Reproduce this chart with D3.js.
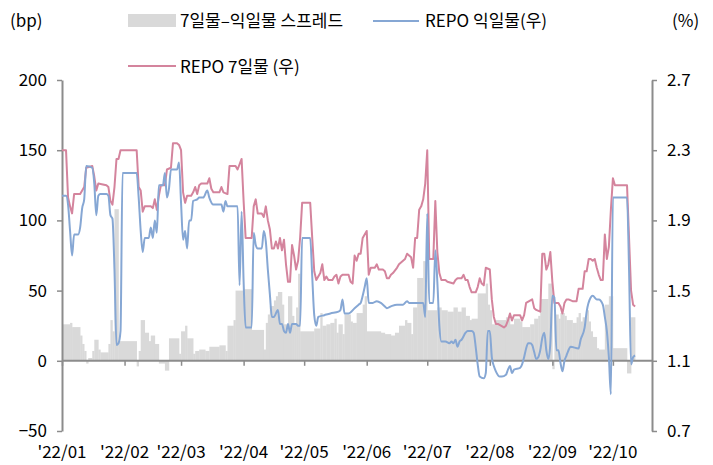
<!DOCTYPE html>
<html>
<head>
<meta charset="utf-8">
<script src="https://cdnjs.cloudflare.com/ajax/libs/d3/7.8.5/d3.min.js"></script>
<style>
  body { margin: 0; background: #fff; }
  text { font-family: "Liberation Sans Narrow", "Noto Sans CJK KR", sans-serif; fill: #000; }
</style>
</head>
<body>
<div id="chart"></div>
<script>
// 7일물-익일물 스프레드 (bp), step values from each date
const spreadDates = ["01-01","01-05","01-06","01-10","01-11","01-12","01-13","01-14","01-16","01-17","01-19","01-20","01-24","01-25","01-26","01-27","01-29",
  "02-07","02-08","02-09","02-11","02-13","02-14","02-16","02-18","02-21","02-23","02-28",
  "03-01","03-03","03-04","03-07","03-08","03-10","03-13","03-15","03-20","03-23","03-24","03-27","03-28",
  "04-01","04-05","04-11","04-12","04-13","04-14","04-16","04-17","04-18","04-20","04-21","04-23","04-25","04-26","04-27","04-28","04-29",
  "05-06","05-09","05-10","05-12","05-14","05-16","05-17","05-18","05-20","05-21","05-24","05-25","05-27","05-30","05-31",
  "06-01","06-08","06-10","06-13","06-15","06-17","06-20","06-21","06-23","06-24","06-26","06-29",
  "07-01","07-06","07-08","07-11","07-14","07-16","07-18","07-20","07-22","07-23","07-26","07-30","07-31",
  "08-01","08-02","08-04","08-09","08-11","08-13","08-16","08-17","08-21","08-23","08-25","08-26","08-30",
  "09-01","09-02","09-04","09-05","09-07","09-08","09-11","09-13","09-14","09-15","09-16","09-18","09-19","09-20","09-21","09-23","09-24","09-27","09-29",
  "10-01","10-08","10-10","10-11"];
const spreadValues = [26,27,24,18,12,7,-2,2,7,15,8,6,12,29,21,108,14,
  -4,7,29,20,14,18,12,-2,-7,16,5,
  21,25,16,5,7,8,7,10,11,7,25,29,50,
  51,22,8,27,33,39,43,46,49,40,26,46,32,26,38,62,21,
  23,34,25,26,27,30,20,26,19,33,28,27,34,40,46,
  21,20,19,18,20,25,29,27,19,38,59,71,
  36,38,36,35,38,35,38,32,29,30,48,55,40,
  36,26,29,31,26,30,28,24,26,30,32,44,55,
  -6,33,30,34,32,29,27,31,34,28,31,36,28,21,17,9,8,40,46,
  9,-9,31,31];

// REPO 익일물 (%)
const onDates = ["01-01","01-03","01-04","01-05","01-06","01-07","01-09","01-10","01-11","01-12","01-13","01-16","01-17","01-18","01-19","01-20","01-23","01-24","01-25","01-26","01-27","01-28","01-29","01-30","01-31",
  "02-07","02-08","02-09","02-10","02-11","02-13","02-14","02-15","02-16","02-17","02-18","02-20","02-21","02-22","02-23","02-24","02-27","02-28",
  "03-01","03-02","03-03","03-04","03-05","03-06","03-07","03-09","03-10","03-12","03-14","03-15","03-17","03-21","03-22","03-23","03-24","03-29","03-30","03-31",
  "04-01","04-02","04-05","04-06","04-07","04-08","04-10","04-11","04-12","04-13","04-14","04-15","04-16","04-18","04-19","04-20","04-21","04-22","04-23","04-24","04-25","04-27","04-28","04-29","04-30",
  "05-04","05-05","05-06","05-07","05-08","05-11","05-14","05-18","05-19","05-20","05-21","05-23","05-26","05-28","05-29","05-30","05-31",
  "06-01","06-02","06-04","06-06","06-08","06-10","06-11","06-13","06-16","06-19","06-21","06-22","06-29","06-30",
  "07-01","07-02","07-04","07-05","07-06","07-07","07-08","07-10","07-12","07-13","07-14","07-15","07-16","07-17","07-18","07-20","07-21","07-23","07-24","07-25","07-26","07-27","07-29","07-30","07-31",
  "08-01","08-02","08-03","08-04","08-06","08-07","08-09","08-10","08-11","08-12","08-13","08-16","08-17","08-18","08-19","08-20","08-21","08-22","08-23","08-24","08-25","08-26","08-27","08-28","08-29","08-30","08-31",
  "09-01","09-02","09-03","09-04","09-05","09-06","09-07","09-08","09-09","09-10","09-14","09-15","09-17","09-18","09-20","09-21","09-23","09-24","09-26","09-27","09-28","09-29","09-30",
  "10-01","10-08","10-09","10-10","10-11","10-12"];
const onValues = [2.04,2.04,1.99,1.84,1.70,1.82,1.82,1.86,1.97,2.02,2.21,2.20,2.11,1.93,2.04,2.05,2.05,2.04,1.93,1.91,1.62,1.19,1.20,1.27,2.17,
  2.17,2.03,1.84,1.72,1.80,1.80,1.86,1.80,1.90,1.83,2.10,2.10,2.17,2.03,2.08,2.19,2.19,2.23,
  2.00,1.79,1.84,1.74,1.90,1.90,2.01,2.02,2.03,2.03,2.07,2.03,1.99,1.99,1.95,2.01,1.98,1.98,1.53,1.95,
  1.55,1.29,1.29,1.83,1.76,1.74,1.74,1.84,1.78,1.62,1.48,1.35,1.35,1.39,1.31,1.31,1.27,1.26,1.31,1.26,1.31,1.31,1.30,1.30,1.80,
  1.80,1.58,1.36,1.30,1.35,1.36,1.37,1.38,1.39,1.45,1.37,1.37,1.40,1.42,1.43,1.47,1.52,
  1.57,1.43,1.43,1.44,1.43,1.41,1.40,1.41,1.42,1.42,1.44,1.43,1.43,1.35,
  1.94,1.43,1.43,1.73,1.55,1.30,1.21,1.21,1.20,1.21,1.20,1.22,1.18,1.21,1.22,1.26,1.27,1.27,1.26,1.18,1.08,1.01,1.00,1.03,1.27,
  1.27,1.12,1.07,1.04,1.01,1.01,1.02,1.05,1.07,1.03,1.05,1.06,1.08,1.12,1.17,1.20,1.20,1.19,1.15,1.11,1.12,1.16,1.23,1.26,1.16,1.11,1.20,
  1.47,1.46,1.16,1.16,1.09,1.04,1.10,1.13,1.16,1.18,1.17,1.22,1.29,1.38,1.46,1.47,1.45,1.45,1.42,1.35,1.27,1.12,0.91,
  2.03,2.03,1.62,1.08,1.12,1.13];

// REPO 7일물 (%)
const d7Dates = ["01-01","01-03","01-04","01-05","01-06","01-07","01-10","01-11","01-12","01-13","01-16","01-17","01-18","01-19","01-23","01-24","01-25","01-26","01-27","01-28","01-29","01-30",
  "02-07","02-08","02-09","02-10","02-11","02-14","02-15","02-16","02-17","02-18","02-19","02-21","02-22","02-24","02-25","02-27","02-28",
  "03-01","03-02","03-03","03-04","03-06","03-07","03-08","03-09","03-10","03-11","03-14","03-15","03-16","03-17","03-20","03-21","03-22","03-24","03-25","03-28","03-29","03-30","03-31",
  "04-01","04-02","04-05","04-06","04-07","04-08","04-10","04-11","04-12","04-13","04-14","04-15","04-16","04-17","04-18","04-19","04-20","04-21","04-22","04-23","04-24","04-25","04-26","04-27","04-28","04-29","04-30",
  "05-04","05-05","05-06","05-07","05-08","05-09","05-10","05-11","05-12","05-13","05-15","05-16","05-17","05-18","05-19","05-20","05-23","05-24","05-25","05-26","05-27","05-28","05-29","05-30","05-31",
  "06-01","06-02","06-03","06-05","06-06","06-07","06-09","06-10","06-11","06-12","06-13","06-14","06-16","06-17","06-19","06-20","06-21","06-22","06-23","06-24","06-25","06-26","06-27","06-28","06-29","06-30",
  "07-01","07-02","07-04","07-05","07-06","07-07","07-08","07-10","07-11","07-14","07-15","07-16","07-18","07-19","07-20","07-21","07-22","07-23","07-25","07-26","07-27","07-28","07-29","07-30",
  "08-01","08-02","08-03","08-04","08-05","08-08","08-09","08-10","08-11","08-12","08-13","08-16","08-17","08-18","08-19","08-22","08-23","08-24","08-26","08-27","08-28","08-29","08-30","08-31",
  "09-01","09-02","09-04","09-05","09-06","09-07","09-08","09-09","09-11","09-13","09-14","09-16","09-17","09-18","09-19","09-20","09-21","09-22","09-23","09-24","09-25","09-26","09-27","09-28","09-29","09-30",
  "10-01","10-02","10-08","10-09","10-10","10-11","10-12"];
const d7Values = [2.30,2.30,2.03,1.98,1.94,2.05,2.05,2.07,2.09,2.20,2.21,2.15,2.07,2.11,2.10,2.09,2.01,1.99,2.09,2.25,2.25,2.30,
  2.30,2.09,2.07,1.95,1.98,1.98,1.97,2.02,1.96,2.04,2.10,2.10,2.19,2.20,2.34,2.34,2.33,
  2.30,2.06,2.00,2.04,2.04,2.06,2.09,2.05,2.10,2.11,2.11,2.14,2.08,2.06,2.06,2.09,2.06,2.05,2.21,2.21,2.19,2.22,2.25,
  2.01,1.80,1.80,1.98,2.02,1.94,1.94,1.92,1.98,1.90,1.85,1.74,1.74,1.78,1.74,1.80,1.73,1.79,1.65,1.55,1.55,1.76,1.70,1.62,1.67,1.80,2.00,
  2.00,1.80,1.61,1.56,1.58,1.60,1.65,1.56,1.58,1.56,1.56,1.58,1.59,1.54,1.58,1.59,1.59,1.55,1.54,1.70,1.67,1.71,1.71,1.80,1.82,
  1.84,1.59,1.63,1.63,1.65,1.62,1.62,1.61,1.57,1.57,1.59,1.60,1.63,1.65,1.67,1.68,1.71,1.70,1.69,1.63,1.80,1.80,1.96,1.98,2.02,2.11,
  2.30,1.68,1.68,2.01,1.72,1.60,1.56,1.56,1.55,1.54,1.56,1.57,1.57,1.59,1.56,1.56,1.52,1.49,1.49,1.52,1.57,1.54,1.53,1.63,
  1.62,1.45,1.35,1.31,1.31,1.29,1.30,1.33,1.37,1.33,1.36,1.36,1.33,1.36,1.43,1.45,1.40,1.39,1.38,1.71,1.71,1.62,1.65,1.72,
  1.55,1.43,1.43,1.41,1.37,1.43,1.45,1.45,1.44,1.44,1.51,1.51,1.61,1.61,1.68,1.68,1.67,1.68,1.63,1.59,1.56,1.56,1.82,1.68,1.75,1.96,
  2.14,2.10,2.10,1.80,1.50,1.42,1.41];

const monthLabels = ["'22/01","'22/02","'22/03","'22/04","'22/05","'22/06","'22/07","'22/08","'22/09","'22/10"];
const leftTicks = [-50, 0, 50, 100, 150, 200];
const rightTicks = [0.7, 1.1, 1.5, 1.9, 2.3, 2.7];

const parse = d3.timeParse("%Y-%m-%d");
const toDate = s => parse("2022-" + s);

const width = 713, height = 465;
const plot = {left: 62, right: 652, top: 80, bottom: 431};
const axisColor = "#8c8c8c";
const pinkColor = "#d4849d";
const blueColor = "#86a7d4";
const barColor = "#d9d9d9";

const x = d3.scaleTime()
    .domain([new Date(2022, 0, 1), new Date(2022, 9, 20, 9)])
    .range([plot.left, plot.right]);
const yL = d3.scaleLinear().domain([-50, 200]).range([plot.bottom, plot.top]);
const yR = d3.scaleLinear().domain([0.7, 2.7]).range([plot.bottom, plot.top]);

const svg = d3.select("#chart").append("svg")
    .attr("width", width)
    .attr("height", height);

// spread bars
const bars = spreadDates.map((s, i) => {
  const d0 = toDate(s);
  const d1 = i < spreadDates.length - 1 ? toDate(spreadDates[i + 1]) : d3.timeDay.offset(d0, 1);
  return {d0, d1, v: spreadValues[i]};
});

svg.append("g")
  .selectAll("rect")
  .data(bars)
  .join("rect")
    .attr("x", d => x(d.d0))
    .attr("width", d => x(d.d1) - x(d.d0) + 0.3)
    .attr("y", d => yL(Math.max(0, d.v)))
    .attr("height", d => Math.abs(yL(d.v) - yL(0)))
    .attr("fill", barColor);

// axes
const styleAxis = g => {
  g.select(".domain").attr("stroke", axisColor).attr("stroke-width", 2);
  g.selectAll(".tick line").attr("stroke", axisColor).attr("stroke-width", 1.5);
  g.selectAll(".tick text").attr("font-size", 17);
};

svg.append("g")
    .attr("transform", `translate(${plot.left},0)`)
    .call(d3.axisLeft(yL).tickValues(leftTicks).tickSize(5).tickSizeOuter(0).tickPadding(10))
    .call(styleAxis);

svg.append("g")
    .attr("transform", `translate(${plot.right},0)`)
    .call(d3.axisRight(yR).tickValues(rightTicks).tickFormat(d3.format(".1f")).tickSize(5).tickSizeOuter(0).tickPadding(10))
    .call(styleAxis);

const monthStarts = d3.range(10).map(m => new Date(2022, m, 1));

svg.append("g")
    .attr("transform", `translate(0,${yL(0)})`)
    .call(d3.axisBottom(x).tickValues(monthStarts).tickFormat("").tickSize(5).tickSizeOuter(0))
    .call(g => g.select(".domain").attr("d", `M${plot.left},0H${plot.right}`))
    .call(styleAxis);

svg.append("g")
  .selectAll("text")
  .data(monthStarts)
  .join("text")
    .attr("x", d => x(d))
    .attr("y", 458)
    .attr("text-anchor", "middle")
    .attr("font-size", 17)
    .text((d, i) => monthLabels[i]);

// lines
const onData = onDates.map((s, i) => ({date: toDate(s), v: onValues[i]}));
const d7Data = d7Dates.map((s, i) => ({date: toDate(s), v: d7Values[i]}));

svg.append("path")
    .datum(d7Data)
    .attr("fill", "none")
    .attr("stroke", pinkColor)
    .attr("stroke-width", 2)
    .attr("stroke-linejoin", "round")
    .attr("d", d3.line().x(d => x(d.date)).y(d => yR(d.v)));

svg.append("path")
    .datum(onData)
    .attr("fill", "none")
    .attr("stroke", blueColor)
    .attr("stroke-width", 2)
    .attr("stroke-linejoin", "round")
    .attr("d", d3.line().curve(d3.curveMonotoneX).x(d => x(d.date)).y(d => yR(d.v)));

// unit labels
svg.append("text").attr("x", 10).attr("y", 27).attr("font-size", 17).text("(bp)");
svg.append("text").attr("x", 672).attr("y", 27).attr("font-size", 17).text("(%)");

// legend
const legend = svg.append("g");
legend.append("rect").attr("x", 128).attr("y", 14).attr("width", 48).attr("height", 13).attr("fill", barColor);
legend.append("text").attr("x", 180).attr("y", 27).attr("font-size", 17).text("7일물–익일물 스프레드");
legend.append("line").attr("x1", 373).attr("x2", 419).attr("y1", 21).attr("y2", 21)
    .attr("stroke", blueColor).attr("stroke-width", 2);
legend.append("text").attr("x", 425).attr("y", 27).attr("font-size", 17).text("REPO 익일물(우)");
legend.append("line").attr("x1", 128).attr("x2", 176).attr("y1", 66).attr("y2", 66)
    .attr("stroke", pinkColor).attr("stroke-width", 2);
legend.append("text").attr("x", 180).attr("y", 73).attr("font-size", 17).text("REPO 7일물 (우)");
</script>
</body>
</html>
